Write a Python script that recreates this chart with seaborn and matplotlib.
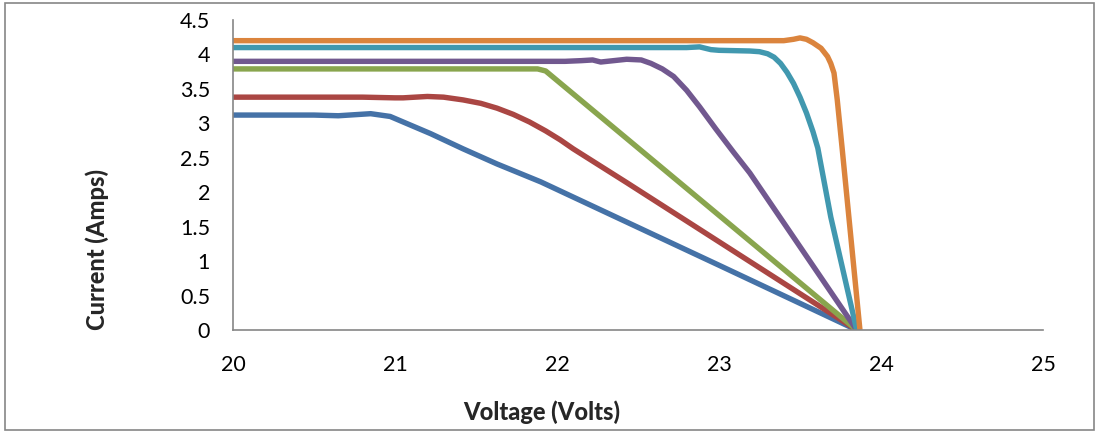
import matplotlib
import pandas as pd
import seaborn as sns

matplotlib.use("Agg")
import matplotlib.pyplot as plt
from matplotlib.patches import Rectangle

sns.set_theme(style="white")
plt.rcParams["font.family"] = ["Lato", "DejaVu Sans"]

# I-V curves (voltage in volts, current in amps)
blue_v = [20.0, 20.5, 20.65, 20.85, 20.97, 21.09, 21.22, 21.42, 21.63, 21.90, 23.0, 23.85]
blue_i = [3.12, 3.12, 3.11, 3.14, 3.10, 2.98, 2.85, 2.63, 2.41, 2.15, 0.94, 0.0]

red_v = [20.0, 20.8, 21.0, 21.05, 21.2, 21.3, 21.42, 21.53, 21.63, 21.73, 21.83, 21.93, 22.02, 22.10, 22.43, 23.85]
red_i = [3.38, 3.38, 3.37, 3.37, 3.39, 3.38, 3.34, 3.29, 3.22, 3.13, 3.02, 2.89, 2.76, 2.63, 2.14, 0.0]

green_v = [20.0, 21.85, 21.88, 21.93, 23.85]
green_i = [3.79, 3.79, 3.79, 3.76, 0.0]

purple_v = [20.0, 22.05, 22.15, 22.22, 22.27, 22.43, 22.52, 22.58, 22.65, 22.72, 22.80, 22.88, 22.98, 23.09, 23.19, 23.85]
purple_i = [3.90, 3.90, 3.91, 3.92, 3.89, 3.93, 3.92, 3.87, 3.79, 3.68, 3.48, 3.24, 2.92, 2.58, 2.28, 0.0]

teal_v = [20.0, 22.8, 22.88, 22.95, 23.0, 23.19, 23.25, 23.30, 23.34, 23.38, 23.42, 23.46, 23.50, 23.54, 23.58, 23.61, 23.69, 23.85]
teal_i = [4.10, 4.10, 4.11, 4.07, 4.06, 4.05, 4.04, 4.01, 3.96, 3.87, 3.74, 3.58, 3.38, 3.15, 2.88, 2.64, 1.64, 0.0]

orange_v = [20.0, 23.40, 23.46, 23.50, 23.54, 23.58, 23.63, 23.67, 23.69, 23.71, 23.73, 23.76, 23.87]
orange_i = [4.20, 4.20, 4.22, 4.24, 4.22, 4.17, 4.09, 3.97, 3.87, 3.73, 3.34, 2.64, 0.0]

series = {
    "S1": (blue_v, blue_i),
    "S2": (red_v, red_i),
    "S3": (green_v, green_i),
    "S4": (purple_v, purple_i),
    "S5": (teal_v, teal_i),
    "S6": (orange_v, orange_i),
}
colors = ["#4572a7", "#aa4643", "#89a54e", "#71588f", "#4198af", "#db843d"]

frames = [pd.DataFrame({"voltage": v, "current": i, "series": name})
          for name, (v, i) in series.items()]
df = pd.concat(frames, ignore_index=True)

fig = plt.figure(figsize=(10.97, 4.32), dpi=100)
ax = fig.add_axes([233 / 1097, 102 / 432, 810 / 1097, 310 / 432])

sns.lineplot(data=df, x="voltage", y="current", hue="series", palette=colors,
             estimator=None, sort=False, linewidth=3.9, legend=False, ax=ax)
for line in ax.get_lines():
    line.set_solid_joinstyle("round")
    line.set_solid_capstyle("butt")

ax.set_xlim(20, 25)
ax.set_ylim(0, 4.5)
ax.set_xticks([20, 21, 22, 23, 24, 25])
ax.set_xticklabels(["20", "21", "22", "23", "24", "25"])
ax.set_yticks([0, 0.5, 1, 1.5, 2, 2.5, 3, 3.5, 4, 4.5])
ax.set_yticklabels(["0", "0.5", "1", "1.5", "2", "2.5", "3", "3.5", "4", "4.5"])
ax.set_xlabel("")
ax.set_ylabel("")

for side in ["top", "right"]:
    ax.spines[side].set_visible(False)
for side in ["left", "bottom"]:
    ax.spines[side].set_color("#868686")
    ax.spines[side].set_linewidth(1.2)
ax.tick_params(axis="both", which="both", direction="out", colors="#868686",
               labelcolor="black", labelsize=15.5, width=1.2)
ax.tick_params(axis="x", length=5, pad=13)
ax.tick_params(axis="y", length=4.5, pad=12)
ax.grid(False)

fig.text(542 / 1097, 1 - 412 / 432, "Voltage (Volts)", fontsize=17,
         fontweight="black", ha="center", va="center")
fig.text(97 / 1097, 1 - 250 / 432, "Current (Amps)", fontsize=17,
         fontweight="black", ha="center", va="center", rotation=90)

fig.patches.append(Rectangle((5 / 1097, 2 / 432), 1089 / 1097, 427 / 432,
                             transform=fig.transFigure, fill=False,
                             edgecolor="#868686", linewidth=1.2))

fig.savefig("out.png", dpi=100)
plt.close(fig)
